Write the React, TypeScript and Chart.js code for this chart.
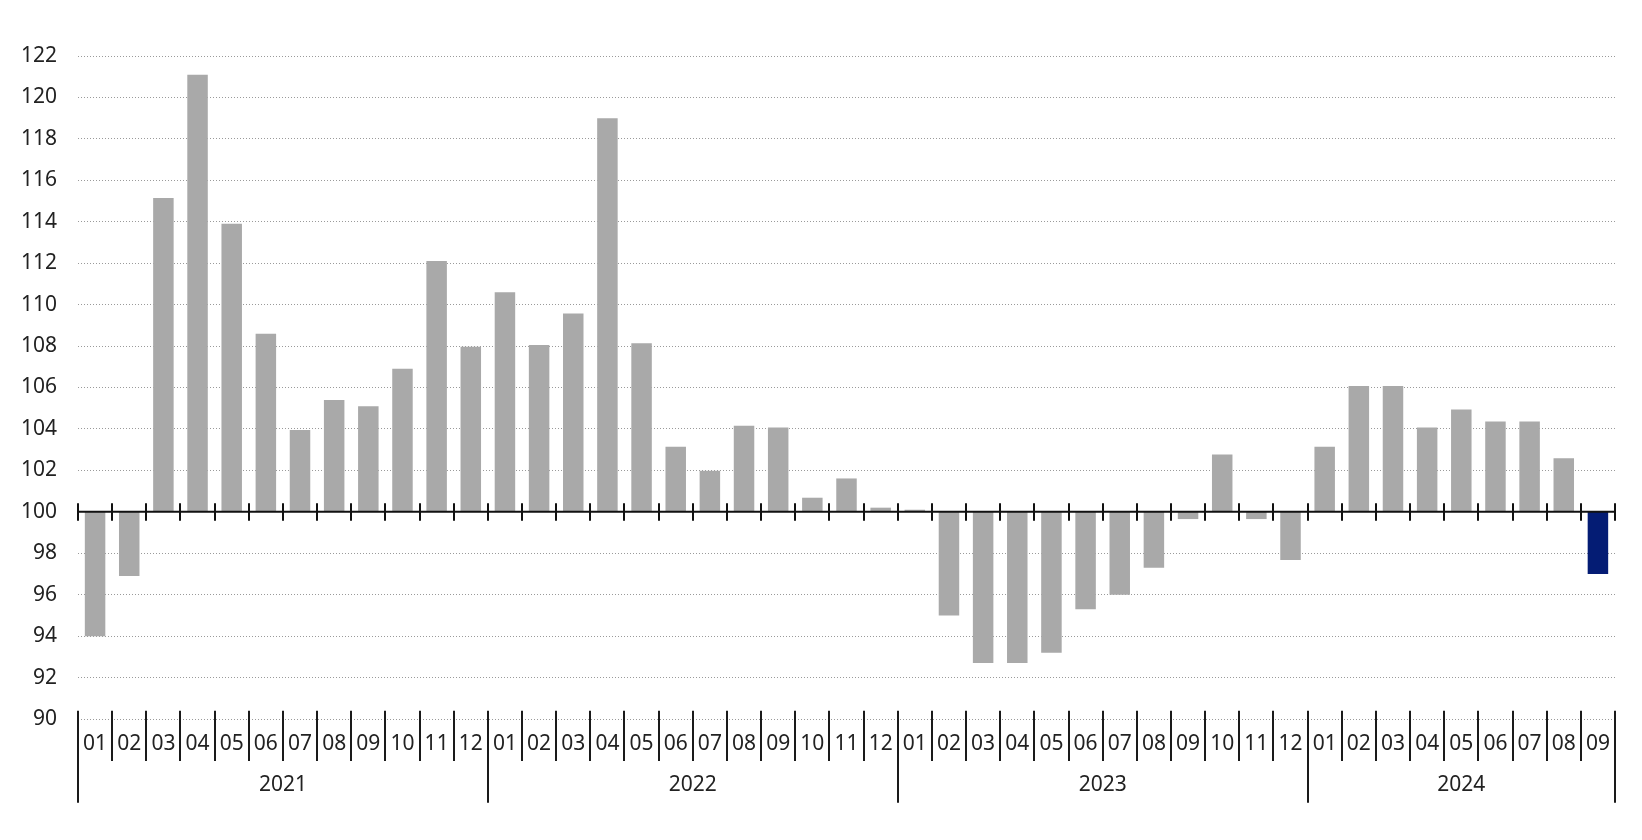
import React, { useEffect, useRef } from 'react';
import { Chart, registerables } from 'chart.js';

Chart.register(...registerables);

// ---- Data ----
const years = ['2021', '2022', '2023', '2024'];
const months2021 = ['01', '02', '03', '04', '05', '06', '07', '08', '09', '10', '11', '12'];
const months2022 = ['01', '02', '03', '04', '05', '06', '07', '08', '09', '10', '11', '12'];
const months2023 = ['01', '02', '03', '04', '05', '06', '07', '08', '09', '10', '11', '12'];
const months2024 = ['01', '02', '03', '04', '05', '06', '07', '08', '09'];

const values2021 = [94.0, 96.9, 115.15, 121.1, 113.9, 108.6, 103.95, 105.4, 105.1, 106.9, 112.1, 107.97];
const values2022 = [110.6, 108.05, 109.57, 119.0, 108.13, 103.14, 101.98, 104.15, 104.07, 100.68, 101.61, 100.2];
const values2023 = [100.1, 95.0, 92.7, 92.7, 93.2, 95.3, 96.0, 97.3, 99.65, 102.77, 99.65, 97.67];
const values2024 = [103.14, 106.07, 106.07, 104.07, 104.94, 104.36, 104.36, 102.58, 97.0];

const baseline = 100;
const yMin = 90;
const yMax = 122;
const yStep = 2;

const monthGroups = [months2021, months2022, months2023, months2024];
const valueGroups = [values2021, values2022, values2023, values2024];

const FONT = '"Noto Sans", "DejaVu Sans", sans-serif';
const FONT_SIZE = 21;
const TEXT_COLOR = '#222';
const GRAY = '#a9a9a9';
const NAVY = '#041c74';

export default function App() {
  const canvasRef = useRef<HTMLCanvasElement | null>(null);

  useEffect(() => {
    const canvas = canvasRef.current;
    if (!canvas) return;

    const labels: string[] = [];
    const yearOfIndex: number[] = [];
    monthGroups.forEach((g, yi) => g.forEach((m) => { labels.push(m); yearOfIndex.push(yi); }));
    const values: number[] = ([] as number[]).concat(...valueGroups);
    const data = values.map((v) => [baseline, v]);
    const colors = values.map((_, i) => (i === values.length - 1 ? NAVY : GRAY));

    const axisPlugin = {
      id: 'customAxis',
      afterDatasetsDraw(chart: any) {
        const { ctx, chartArea, scales } = chart;
        const x = scales.x;
        const y = scales.y;
        const n = chart.data.labels.length;
        const cw = x.getPixelForValue(1) - x.getPixelForValue(0);
        const boundary = (i: number) => x.getPixelForValue(i) - cw / 2;
        const y100 = y.getPixelForValue(baseline);
        ctx.save();
        ctx.strokeStyle = '#111';
        ctx.lineWidth = 2;
        ctx.beginPath();
        ctx.moveTo(chartArea.left, y100);
        ctx.lineTo(chartArea.right, y100);
        ctx.stroke();
        ctx.beginPath();
        for (let i = 0; i <= n; i++) {
          const bx = Math.round(boundary(i));
          ctx.moveTo(bx, y100 - 8.5);
          ctx.lineTo(bx, y100 + 9);
        }
        ctx.stroke();
        ctx.restore();
      },
      afterDraw(chart: any) {
        const { ctx, scales } = chart;
        const x = scales.x;
        const y = scales.y;
        const n = chart.data.labels.length;
        const cw = x.getPixelForValue(1) - x.getPixelForValue(0);
        const boundary = (i: number) => x.getPixelForValue(i) - cw / 2;
        const yBottom = y.getPixelForValue(yMin);
        ctx.save();
        ctx.strokeStyle = '#1a1a1a';
        ctx.lineWidth = 2;
        ctx.beginPath();
        for (let i = 0; i <= n; i++) {
          const bx = Math.round(boundary(i));
          const isYear = i === 0 || i === n || yearOfIndex[i] !== yearOfIndex[i - 1];
          ctx.moveTo(bx, yBottom - 8.3);
          ctx.lineTo(bx, yBottom + (isYear ? 83.7 : 42));
        }
        ctx.stroke();

        ctx.fillStyle = TEXT_COLOR;
        ctx.font = `${FONT_SIZE}px ${FONT}`;
        ctx.textAlign = 'center';
        ctx.textBaseline = 'middle';
        for (let i = 0; i < n; i++) {
          ctx.fillText(chart.data.labels[i], x.getPixelForValue(i), yBottom + 25.5);
        }
        let start = 0;
        years.forEach((yr, yi) => {
          const len = monthGroups[yi].length;
          const cx = (boundary(start) + boundary(start + len)) / 2;
          ctx.fillText(yr, cx, yBottom + 66);
          start += len;
        });
        ctx.restore();
      },
    };

    const chart = new Chart(canvas, {
      type: 'bar',
      data: {
        labels,
        datasets: [
          {
            data: data as any,
            backgroundColor: colors,
            borderWidth: 0,
            barPercentage: 0.6,
            categoryPercentage: 1,
          },
        ],
      },
      options: {
        animation: false,
        responsive: false,
        maintainAspectRatio: false,
        layout: { padding: { top: 56, right: 27, bottom: 0, left: 0 } },
        plugins: {
          legend: { display: false },
          tooltip: { enabled: false },
          title: { display: false },
        },
        scales: {
          x: {
            type: 'category',
            display: true,
            grid: { display: false },
            border: { display: false },
            ticks: { display: false },
            afterFit: (s: any) => { s.height = 121; },
          },
          y: {
            type: 'linear',
            min: yMin,
            max: yMax,
            ticks: {
              stepSize: yStep,
              autoSkip: false,
              color: TEXT_COLOR,
              padding: 21,
              font: { family: FONT, size: FONT_SIZE },
            },
            grid: {
              color: '#9a9a9a',
              lineWidth: 1,
              drawTicks: false,
            },
            border: { display: false, dash: [1, 2] },
            afterFit: (s: any) => { s.width = 78; },
          },
        },
      },
      plugins: [axisPlugin],
    });

    return () => chart.destroy();
  }, []);

  return (
    <div style={{ position: 'absolute', left: 0, top: 0, width: 1642, height: 840, background: '#fff' }}>
      <canvas ref={canvasRef} width={1642} height={840} style={{ display: 'block' }} />
    </div>
  );
}
